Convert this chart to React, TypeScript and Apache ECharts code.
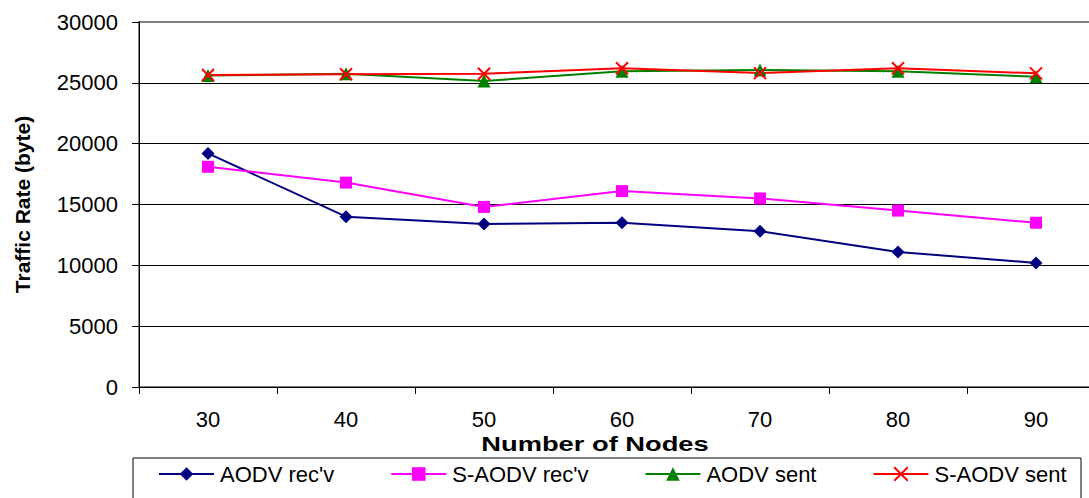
import React, { useEffect, useRef } from "react";
import * as echarts from "echarts";

const categories = ["30", "40", "50", "60", "70", "80", "90"];
const aodvRecv = [19200, 14000, 13400, 13500, 12800, 11100, 10200];
const saodvRecv = [18100, 16800, 14800, 16100, 15500, 14500, 13500];
const aodvSent = [25600, 25750, 25150, 25950, 26050, 25950, 25500];
const saodvSent = [25650, 25700, 25750, 26200, 25800, 26200, 25780];
const seriesNames = ["AODV rec'v", "S-AODV rec'v", "AODV sent", "S-AODV sent"];
const xTitle = "Number of Nodes";
const yTitle = "Traffic Rate (byte)";

const FONT = "'Liberation Sans', Arial, sans-serif";

export default function App() {
  const ref = useRef<HTMLDivElement>(null);
  useEffect(() => {
    document.body.style.margin = "0";
    if (!ref.current) return;
    const chart = echarts.init(ref.current, undefined, { renderer: "svg" });
    const mk = (
      name: string,
      data: number[],
      color: string,
      symbol: string,
      size: number,
      extra: any = {}
    ) => ({
      name,
      type: "line",
      data,
      symbol,
      symbolSize: size,
      lineStyle: { color, width: 2 },
      itemStyle: { color, ...extra },
      emphasis: { disabled: true },
    });
    chart.setOption({
      animation: false,
      backgroundColor: "#ffffff",
      grid: {
        left: 139,
        top: 22,
        width: 966,
        height: 365,
        containLabel: false,
        outerBoundsMode: "none",
        show: true,
        borderColor: "#808080",
        borderWidth: 2,
        backgroundColor: "transparent",
      },
      xAxis: {
        type: "category",
        data: categories,
        boundaryGap: true,
        axisLine: { lineStyle: { color: "#000", width: 1 } },
        axisTick: { show: true, length: 7, interval: 0, lineStyle: { color: "#000" } },
        axisLabel: { fontFamily: FONT, fontSize: 22, color: "#000", margin: 21, interval: 0 },
        splitLine: { show: false },
      },
      yAxis: {
        type: "value",
        min: 0,
        max: 30000,
        interval: 5000,
        name: yTitle,
        nameLocation: "middle",
        nameGap: 106,
        nameTextStyle: { fontFamily: FONT, fontSize: 21, fontWeight: "bold", color: "#000" },
        axisLine: { show: true, lineStyle: { color: "#000", width: 1 } },
        axisTick: { show: true, length: 7, lineStyle: { color: "#000" } },
        axisLabel: {
          fontFamily: FONT,
          fontSize: 22,
          color: "#000",
          margin: 21,
          formatter: (v: number) => String(v),
        },
        splitLine: {
          show: true,
          lineStyle: {
            color: ["#000", "#000", "#000", "#000", "#000", "#000", "transparent"],
            width: 1,
          },
        },
      },
      legend: {
        left: 158,
        top: 463,
        itemGap: 56,
        itemWidth: 55,
        itemHeight: 17,
        padding: 0,
        data: seriesNames,
        textStyle: { fontFamily: FONT, fontSize: 22, color: "#000", padding: [0, 0, 0, 1] },
      },
      graphic: [
        {
          type: "rect",
          shape: { x: 133, y: 458, width: 948, height: 80 },
          style: { fill: "none", stroke: "#000", lineWidth: 1 },
          silent: true,
        },
        {
          type: "text",
          x: 595,
          y: 444,
          scaleX: 1.3,
          silent: true,
          style: {
            text: xTitle,
            x: 0,
            y: 0,
            align: "center",
            verticalAlign: "middle",
            font: "bold 21px " + FONT,
            fill: "#000",
          },
        },
      ],
      series: [
        mk(seriesNames[0], aodvRecv, "#000080", "diamond", 13),
        mk(seriesNames[1], saodvRecv, "#ff00ff", "rect", 12),
        mk(seriesNames[2], aodvSent, "#008000", "triangle", 13),
        mk(seriesNames[3], saodvSent, "#ff0000", "path://M0,0L10,10M10,0L0,10", 12, {
          borderColor: "#ff0000",
          borderWidth: 2,
        }),
      ],
    });
    return () => chart.dispose();
  }, []);
  return <div ref={ref} style={{ width: 1089, height: 498 }} />;
}
